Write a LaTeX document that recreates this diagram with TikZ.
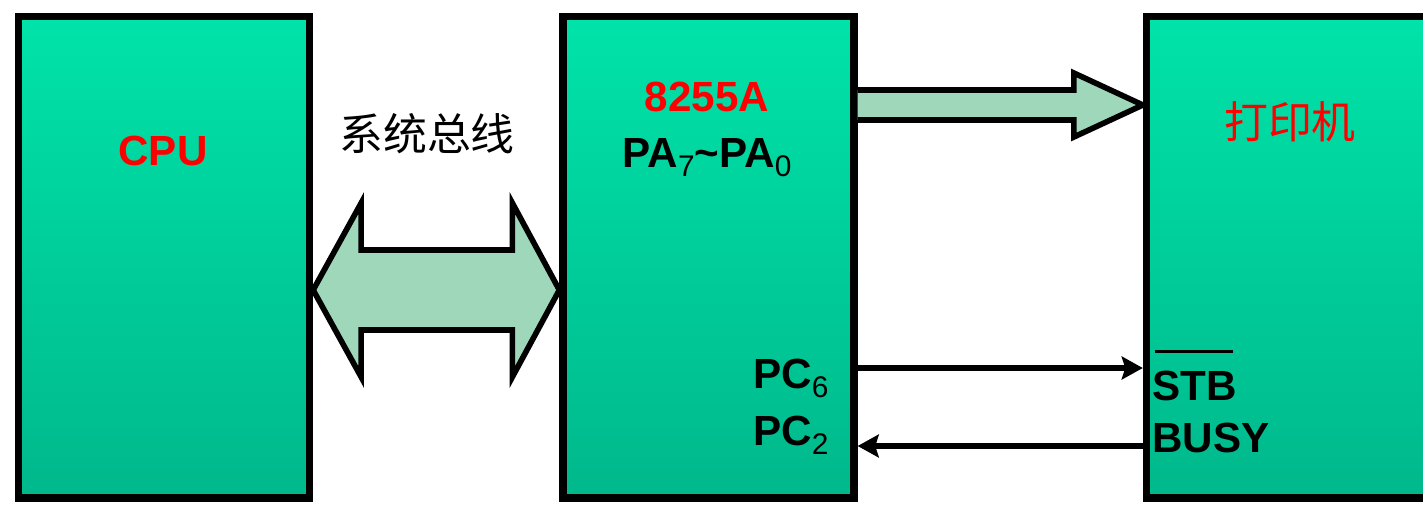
\documentclass[tikz,border=0pt]{standalone}
\usepackage{fontspec}
\setmainfont{Liberation Sans}
\newfontfamily\cjk{Noto Sans CJK SC}
\usetikzlibrary{arrows.meta,calc}
\definecolor{boxtop}{RGB}{0,227,169}
\definecolor{boxbot}{RGB}{0,184,139}
\definecolor{busfill}{RGB}{158,215,186}
\newcommand\subs[1]{\raisebox{-5.5pt}{\fontsize{17}{17}\selectfont\mdseries #1}}

\begin{document}
\begin{tikzpicture}[x=0.02cm,y=-0.02cm,
  blk/.style={draw=black,line width=4.2pt,top color=boxtop,bottom color=boxbot,
              minimum width=5.82cm,minimum height=9.63cm,inner sep=0pt},
  bus/.style={draw=black,line width=3.2pt,fill=busfill,line join=miter},
  sig/.style={line width=3.4pt,-{Stealth[length=12pt,width=13pt,inset=2pt]}},
  lbl/.style={font=\fontsize{24}{28}\selectfont\bfseries,inner sep=0pt},
  zh/.style={font=\fontsize{25}{30}\selectfont\cjk,inner sep=0pt}]
\useasboundingbox (0,0) rectangle (1423,505);
\clip (0,0) rectangle (1423,505);

% ---------------- the three blocks ----------------
\node[blk] (cpu) at (164,257.25) {};
\node[blk] (pia) at (708.5,257.25) {};
\node[blk] (prn) at (1292,257.25) {};

% ---------------- system bus (double arrow) ----------------
\coordinate (busL) at (cpu.east |- 0,290);
\coordinate (busR) at (pia.west |- 0,290);
\draw[bus] (busL) -- ++(48,-87) -- ++(0,47) -- ($(busR)+(-47,-40)$) -- ++(0,-47)
  -- (busR) -- ++(-47,87) -- ++(0,-47) -- ($(busL)+(48,40)$) -- ++(0,47) -- cycle;

% ---------------- data port PA to printer ----------------
\coordinate (datL) at (pia.east |- 0,105);
\coordinate (datR) at (prn.west |- 0,105);
\draw[bus] ($(datL)+(0,-15)$) -- ($(datR)+(-69,-15)$) -- ++(0,-17) -- (datR)
  -- ($(datR)+(-69,32)$) -- ++(0,-17) -- ($(datL)+(0,15)$);

% ---------------- handshake lines ----------------
\draw[sig] (pia.east |- 0,368) -- (prn.west |- 0,368);
\draw[sig] (prn.west |- 0,446) -- (pia.east |- 0,446);

% ---------------- labels ----------------
\node[lbl,text=red] (cpuname) at (163,151) {CPU};
\node[zh] (busname) at (427,134) {系统总线};
\node[lbl,text=red] (pianame) at (707,97) {8255A};
\node[lbl,anchor=base] (pa) at (707,167) {PA\subs{7}\textasciitilde PA\subs{0}};
\node[lbl,anchor=base west] (pc6) at (753,388) {PC\subs{6}};
\node[lbl,anchor=base west] (pc2) at (753,445) {PC\subs{2}};
\node[lbl,anchor=base west] (stb) at (1152,400) {STB};
\node[lbl,anchor=base west] (busy) at (1152,452) {BUSY};
\draw[line width=1.8pt] ($(stb.north west)+(3,-19)$) -- ($(stb.north east)+(-4,-19)$);
\node[zh,text=red] (prnname) at (1290,122) {打印机};
\end{tikzpicture}
\end{document}
